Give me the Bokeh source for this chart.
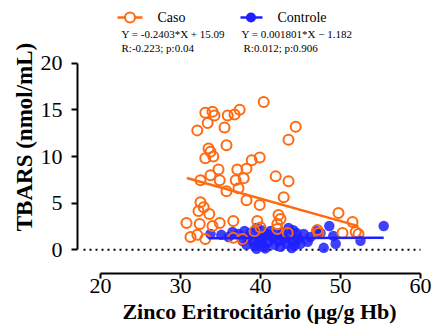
from bokeh.plotting import figure
from bokeh.models import Range1d, FixedTicker, Label
from bokeh.embed import file_html
from bokeh.resources import INLINE

# ---- data ----
caso_x = [40.4, 33.1, 34.0, 34.25, 35.9, 36.75, 37.4, 33.4, 32.1, 35.5, 44.4, 43.5,
          35.75, 33.5, 33.75, 33.1, 34.1, 39.9, 38.9, 38.25, 37.1, 34.75, 33.75, 32.5,
          34.9, 36.9, 37.9, 41.9, 43.5, 35.75, 37.25, 42.9, 38.25, 39.9, 32.5, 32.9,
          32.25, 33.6, 30.75, 32.4, 34.0, 34.9, 36.6, 39.6, 42.25, 42.5, 42.1, 49.75,
          51.5, 51.9, 52.25, 50.25, 32.1, 33.1, 36.6, 37.75, 47.1, 47.25, 42.1, 43.4,
          31.25, 39.25, 40.0]
caso_y = [15.85, 14.7, 14.8, 14.4, 14.4, 14.5, 15.0, 13.6, 12.8, 13.1, 13.2, 11.8,
          11.2, 10.85, 10.5, 9.8, 10.0, 9.9, 9.6, 8.7, 8.6, 8.6, 8.0, 7.45,
          7.45, 7.45, 7.66, 7.87, 7.34, 6.28, 6.6, 5.64, 5.32, 4.79, 5.1, 4.57,
          4.15, 3.83, 2.87, 2.77, 2.55, 2.87, 3.09, 3.09, 3.72, 3.3, 2.77, 3.94,
          2.98, 1.9, 1.7, 1.81, 1.6, 1.17, 1.28, 1.17, 2.13, 1.81, 2.23, 1.81,
          1.38, 2.0, 2.4]

controle_x = [33.75, 35.1, 36.0, 36.5, 37.25, 37.75, 38.0, 38.25, 38.5, 38.75, 39.0,
              39.25, 39.5, 39.5, 39.75, 40.0, 40.25, 40.5, 40.75, 41.0, 41.25, 41.5,
              41.75, 42.0, 42.25, 42.5, 42.75, 43.0, 43.25, 43.5, 43.75, 44.0, 44.25,
              44.5, 44.75, 45.0, 45.4, 45.9, 46.25, 47.0, 47.5, 47.9, 48.6, 49.1,
              49.4, 52.5, 55.4, 40.1, 41.1, 42.6, 43.9, 39.9, 40.6, 44.1]
controle_y = [1.70, 1.60, 1.38, 1.91, 1.70, 0.96, 2.02, 0.53, 1.38, 1.81, 0.96,
              0.43, 2.34, 0.10, 1.38, 0.64, 1.17, 0.32, 1.70, 0.85, 2.02, 1.28,
              0.53, 1.60, 0.96, 0.32, 1.81, 1.17, 0.64, 2.34, 1.49, 0.96, 0.43,
              1.81, 1.17, 0.64, 1.70, 0.85, 1.38, 2.02, 1.81, 0.21, 2.55, 1.49,
              0.64, 0.96, 2.55, 2.10, 1.55, 1.45, 0.20, 1.05, 0.15, 2.10]

caso_slope, caso_intercept = -0.2403, 15.09
controle_slope, controle_intercept = 0.001801, 1.182
caso_fit_x = [30.8, 52.25]
controle_fit_x = [33.5, 55.4]

x_ticks = [20, 30, 40, 50, 60]
y_ticks = [0, 5, 10, 15, 20]

x_title = "Zinco Eritrocitário (\u03bcg/g Hb)"
y_title = "TBARS (nmol/mL)"
caso_eq = "Y = -0.2403*X + 15.09"
caso_stats = "R:-0.223; p:0.04"
controle_eq = "Y = 0.001801*X \u2212 1.182"
controle_stats = "R:0.012; p:0.906"

ORANGE = "#ff6a10"
BLUE = "#1f1fff"
FONT = "Liberation Serif"

p = figure(width=441, height=331, output_backend="svg", toolbar_location=None,
           x_range=Range1d(17.125, 62.625), y_range=Range1d(-2.54, 26.72),
           min_border_left=77, min_border_right=0, min_border_top=0,
           min_border_bottom=58)
p.xgrid.visible = False
p.ygrid.visible = False
p.outline_line_color = None
p.background_fill_color = "white"
p.border_fill_color = "white"

for ax, ticks in ((p.xaxis[0], x_ticks), (p.yaxis[0], y_ticks)):
    ax.ticker = FixedTicker(ticks=ticks)
    ax.bounds = (ticks[0], ticks[-1])
    ax.axis_line_width = 2
    ax.axis_line_color = "black"
    ax.major_tick_line_width = 2
    ax.major_tick_line_color = "black"
    ax.major_tick_in = 0
    ax.minor_tick_line_color = None
    ax.major_label_text_font = FONT
    ax.major_label_text_font_size = "22px"
    ax.major_label_text_color = "black"
    ax.axis_label_text_font = FONT
    ax.axis_label_text_font_style = "bold"
    ax.axis_label_text_color = "black"

p.xaxis.axis_label = x_title
p.xaxis.axis_label_text_font_size = "22px"
p.xaxis.major_tick_out = 5
p.xaxis.major_label_standoff = 0
p.xaxis.axis_label_standoff = 3

p.yaxis.axis_label = y_title
p.yaxis.axis_label_text_font_size = "23px"
p.yaxis.major_tick_out = 6
p.yaxis.major_label_standoff = 9
p.yaxis.axis_label_standoff = 1

# dotted zero line
p.line([17.875, x_ticks[-1]], [0, 0], line_color="black", line_width=2,
       line_dash="2 4")

# points
p.scatter(controle_x, controle_y, marker="circle", size=10.5, fill_color=BLUE,
          fill_alpha=0.85, line_color=None)
p.scatter(caso_x, caso_y, marker="circle", size=10, fill_color=None,
          line_color=ORANGE, line_width=2)

# regression lines
p.line(caso_fit_x, [caso_slope * x + caso_intercept for x in caso_fit_x],
       line_color=ORANGE, line_width=2.5)
p.line(controle_fit_x, [controle_slope * x + controle_intercept for x in controle_fit_x],
       line_color=BLUE, line_width=2.5)

# legend (top)
ly = 24.9
p.line([22.125, 25.25], [ly, ly], line_color=ORANGE, line_width=2.5)
p.scatter([23.69], [ly], marker="circle", size=10, fill_color="white",
          line_color=ORANGE, line_width=2)
p.line([37.5, 40.25], [ly, ly], line_color=BLUE, line_width=2.5)
p.scatter([38.81], [ly], marker="circle", size=10, fill_color=BLUE, line_color=None)

def txt(x, y, s, size):
    p.add_layout(Label(x=x, y=y, text=s, text_font=FONT, text_font_size=size,
                       text_color="black", text_baseline="middle"))

txt(27.125, ly, "Caso", "14px")
txt(42.125, ly, "Controle", "14px")
txt(22.625, 23.18, caso_eq, "11px")
txt(37.625, 23.18, controle_eq, "11px")
txt(22.625, 21.68, caso_stats, "11px")
txt(37.875, 21.68, controle_stats, "11px")

open("out.html", "w").write(file_html(p, INLINE))
